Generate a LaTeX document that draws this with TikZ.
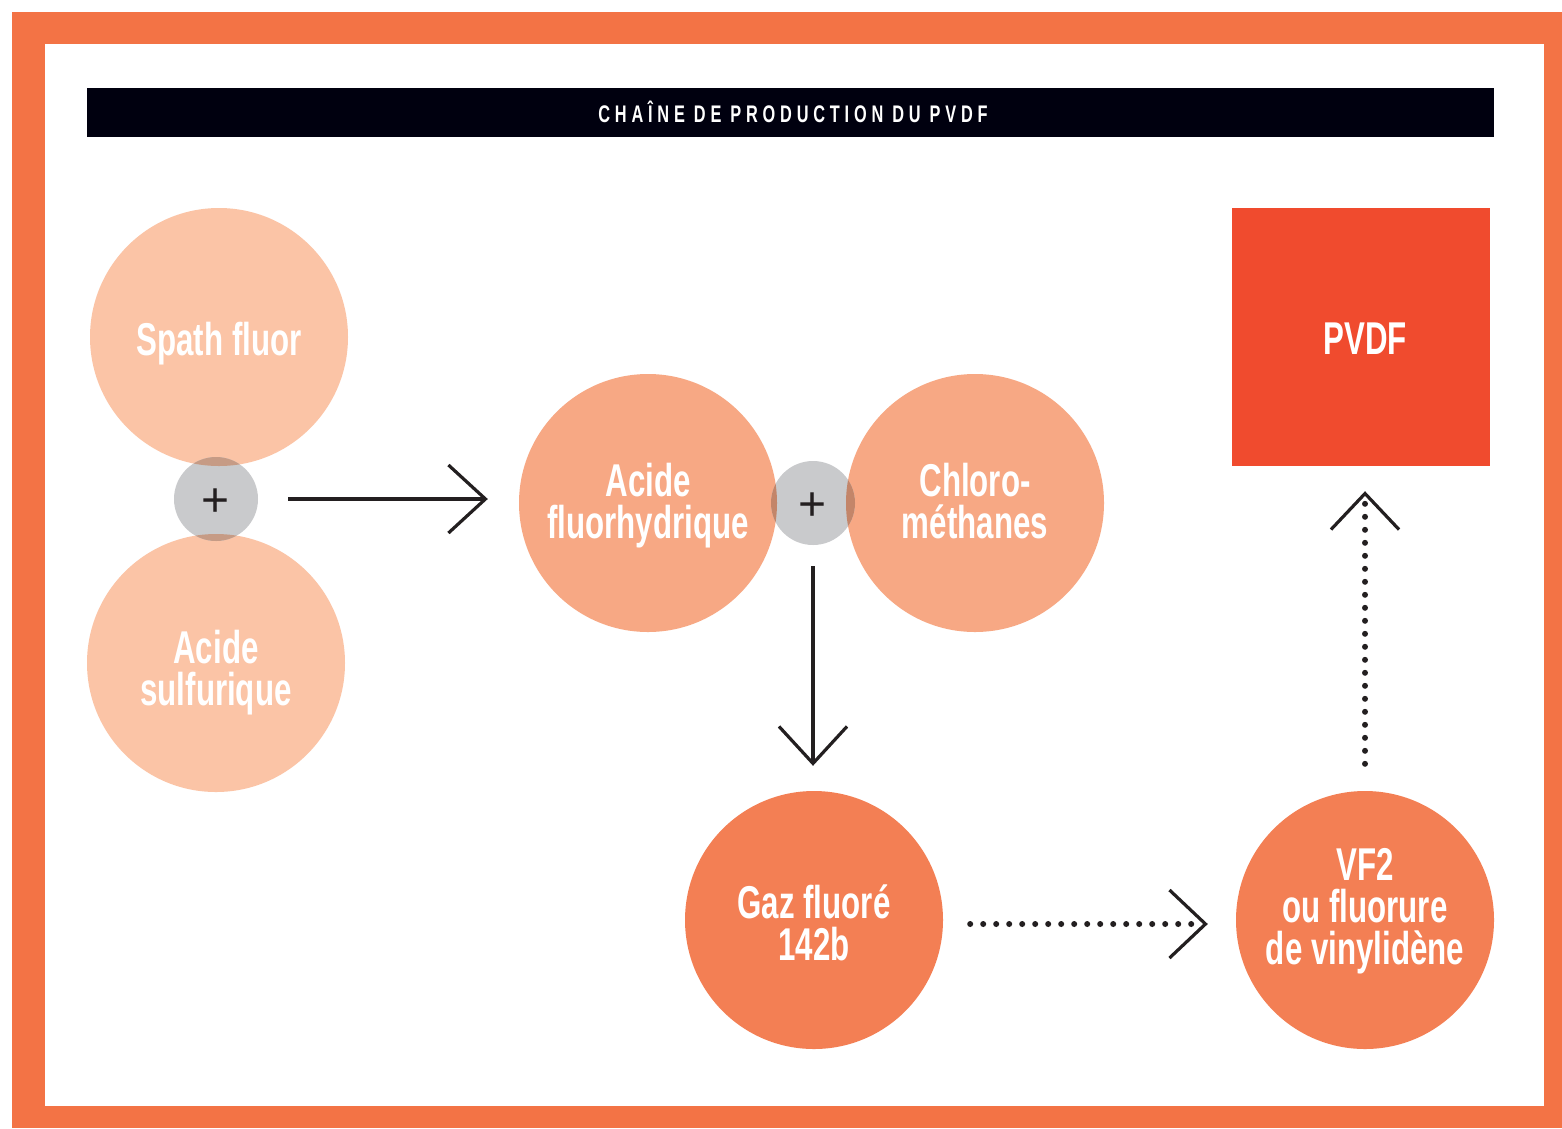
\documentclass[tikz,border=0pt]{standalone}
\usepackage{fontspec}
\setmainfont{Liberation Sans}
\newfontfamily\labfont[FakeStretch=0.68]{Liberation Sans Bold}
\newfontfamily\titlefont[FakeStretch=0.68,LetterSpace=20]{Liberation Sans Bold}
\newfontfamily\plusfont{Liberation Sans}
\usetikzlibrary{arrows.meta}
\definecolor{frameor}{HTML}{F37345}
\definecolor{bannerbk}{HTML}{00000F}
\definecolor{peachA}{HTML}{FBC4A6}
\definecolor{peachB}{HTML}{F7A884}
\definecolor{orangeC}{HTML}{F37F54}
\definecolor{pvdfred}{HTML}{F04B2E}
\definecolor{plusgray}{HTML}{C9CACC}
\definecolor{ovlA}{HTML}{C69B85}
\definecolor{ovlB}{HTML}{C38569}
\definecolor{ink}{HTML}{231F20}
\newcommand{\wsp}{\hspace{9pt}}
\tikzset{
  blob/.style={circle, minimum size=258pt, inner sep=0pt, draw=none},
  plusc/.style={circle, minimum size=84pt, inner sep=0pt, fill=plusgray},
  lbl/.style={text=white, font=\labfont\fontsize{46}{42}\selectfont, align=center, anchor=base, inner sep=0pt},
  plusl/.style={text=ink, font=\plusfont\fontsize{48}{48}\selectfont, anchor=base, inner sep=0pt},
  titlel/.style={text=white, font=\titlefont\fontsize{24}{26}\selectfont, anchor=base, inner sep=0pt},
  arr/.style={draw=ink, line width=3.2pt, -{Straight Barb[length=37pt,width=68pt,line width=3.2pt]}},
  dotarr/.style={draw=ink, line width=6pt, line cap=round, dash pattern=on 0pt off 13pt, -{Straight Barb[length=36pt,width=68pt,line width=3.2pt]}}
}
\begin{document}
\begin{tikzpicture}[x=1pt,y=-1pt]
\useasboundingbox (0,0) rectangle (1562,1128);
% frame
\fill[frameor] (12,12) rectangle (1562,1128);
\fill[white] (45,44) rectangle (1544,1106);
% banner
\node[fill=bannerbk, minimum width=1407pt, minimum height=49pt, inner sep=0pt] (banner) at (790.5,112.5) {};
\node[titlel] (title) at (793,122) {CHAÎNE\wsp DE\wsp PRODUCTION\wsp DU\wsp PVDF};
% circles
\node[blob, fill=peachA] (spath) at (219,337) {};
\node[blob, fill=peachA] (sulf) at (216,663) {};
\node[blob, fill=peachB] (hf) at (648,503) {};
\node[blob, fill=peachB] (chloro) at (975,503) {};
\node[blob, fill=orangeC] (gaz) at (814,920) {};
\node[blob, fill=orangeC] (vf2) at (1365,920) {};
\node[fill=pvdfred, minimum size=258pt, inner sep=0pt] (pvdf) at (1361,337) {};
% plus circles
\node[plusc] (plus1) at (216,499) {};
\node[plusc] (plus2) at (813,503) {};
\begin{scope}
  \clip (plus1.center) circle (42pt);
  \fill[ovlA] (spath.center) circle (129pt);
  \fill[ovlA] (sulf.center) circle (129pt);
\end{scope}
\begin{scope}
  \clip (plus2.center) circle (42pt);
  \fill[ovlB] (hf.center) circle (129pt);
  \fill[ovlB] (chloro.center) circle (129pt);
\end{scope}
\node[plusl] (plus1-t) at (216,516) {+};
\node[plusl] (plus2-t) at (813,520) {+};
% labels (anchor = baseline of last line)
\node[lbl] (spath-t) at (219,355) {Spath fluor};
\node[lbl] (sulf-t) at (216,705) {Acide\\sulfurique};
\node[lbl] (hf-t) at (648,538) {Acide\\fluorhydrique};
\node[lbl] (chloro-t) at (975,538) {Chloro-\\méthanes};
\node[lbl] (gaz-t) at (814,960) {Gaz fluoré\\142b};
\node[lbl] (vf2-t) at (1365,964) {VF2\\ou fluorure\\de vinylidène};
\node[lbl] (pvdf-t) at (1365,354) {PVDF};
% connectors
\draw[arr, shorten <=30pt, shorten >=31pt] (plus1.east) -- (plus1.east -| hf.west);
\draw[arr, shorten <=21pt, shorten >=25pt] (plus2.south) -- (plus2.south |- gaz.north);
\draw[dotarr, shorten <=27pt, shorten >=28pt] ([yshift=-4pt]gaz.east) -- ([yshift=-4pt]vf2.west);
\draw[dotarr, shorten <=27pt, shorten >=25pt] (vf2.north) -- (vf2.north |- pvdf.south);
\end{tikzpicture}
\end{document}
